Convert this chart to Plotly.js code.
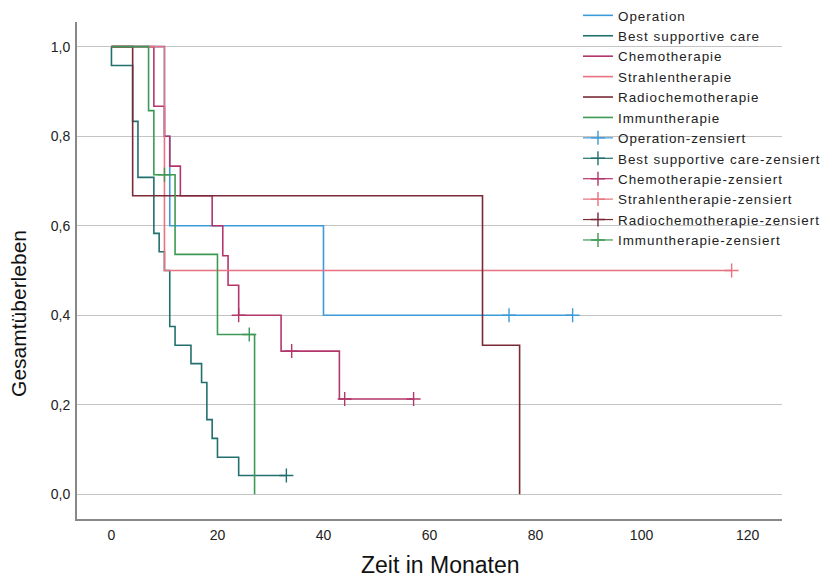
<!DOCTYPE html>
<html>
<head>
<meta charset="utf-8">
<script src="https://cdn.plot.ly/plotly-3.0.1.min.js"></script>
<style>
  html, body { margin: 0; padding: 0; background: #ffffff; }
  #chart { width: 825px; height: 579px; }
  .legend .legendtext { letter-spacing: 1px; }
  .legend, .legend .scrollbox, .legend g { clip-path: none !important; }
</style>
</head>
<body>
<div id="chart"></div>
<script>
// Kaplan-Meier survival estimates per therapy group (time in months)
const groups = ["Operation", "Best supportive care", "Chemotherapie",
                "Strahlentherapie", "Radiochemotherapie", "Immuntherapie"];

const opTime   = [0, 10, 11, 40, 87];
const opSurv   = [1.0, 0.8, 0.6, 0.4, 0.4];
const bscTime  = [0, 0, 4, 5, 8, 9, 10, 11, 12, 15, 17, 18, 19, 20, 24, 33];
const bscSurv  = [1.0, 0.958, 0.833, 0.708, 0.583, 0.542, 0.5, 0.375, 0.333, 0.292, 0.25, 0.167, 0.125, 0.083, 0.042, 0.042];
const chemoTime = [0, 8, 10, 11, 13, 19, 21, 22, 24, 32, 43, 57];
const chemoSurv = [1.0, 0.867, 0.8, 0.733, 0.667, 0.6, 0.533, 0.467, 0.4, 0.32, 0.213, 0.213];
const strTime  = [0, 10, 117];
const strSurv  = [1.0, 0.5, 0.5];
const rctTime  = [0, 4, 70, 77];
const rctSurv  = [1.0, 0.667, 0.333, 0.0];
const immTime  = [0, 7, 8, 12, 20, 27];
const immSurv  = [1.0, 0.857, 0.714, 0.536, 0.357, 0.0];

// censored observations
const opCensTime    = [75, 87];
const opCensSurv    = [0.4, 0.4];
const bscCensTime   = [33];
const bscCensSurv   = [0.042];
const chemoCensTime = [24, 34, 44, 57];
const chemoCensSurv = [0.4, 0.32, 0.213, 0.213];
const strCensTime   = [117];
const strCensSurv   = [0.5];
const rctCensTime   = [];
const rctCensSurv   = [];
const immCensTime   = [10, 26];
const immCensSurv   = [0.714, 0.357];

const xTicks = [0, 20, 40, 60, 80, 100, 120];
const yTicks = [0.0, 0.2, 0.4, 0.6, 0.8, 1.0];
const xTitle = "Zeit in Monaten";
const yTitle = "Gesamtüberleben";

const colors = ["#3b9bd9", "#22706e", "#b3366b", "#e8727f", "#7a2a36", "#3d9a55"];

const curves = [
  [opTime, opSurv], [bscTime, bscSurv], [chemoTime, chemoSurv],
  [strTime, strSurv], [rctTime, rctSurv], [immTime, immSurv]
];
const censored = [
  [opCensTime, opCensSurv], [bscCensTime, bscCensSurv], [chemoCensTime, chemoCensSurv],
  [strCensTime, strCensSurv], [rctCensTime, rctCensSurv], [immCensTime, immCensSurv]
];

// separate points with gaps so censor markers are not joined by lines
function withGaps(arr) {
  const out = [];
  arr.forEach((v, i) => { if (i) out.push(null); out.push(v); });
  return out;
}

const traces = [];
curves.forEach((c, i) => {
  traces.push({
    type: "scatter", mode: "lines", name: groups[i],
    x: c[0], y: c[1],
    line: { shape: "hv", color: colors[i], width: 1.6 },
    hoverinfo: "x+y"
  });
});
censored.forEach((c, i) => {
  const xs = c[0].length ? withGaps(c[0]) : [null];
  const ys = c[1].length ? withGaps(c[1]) : [null];
  traces.push({
    type: "scatter", mode: "lines+markers", name: groups[i] + "-zensiert",
    x: xs, y: ys, connectgaps: false,
    line: { color: colors[i], width: 1.2 },
    marker: { symbol: "cross-thin", size: 10, line: { color: colors[i], width: 1.4 } },
    hoverinfo: "x+y"
  });
});

const layout = {
  width: 825, height: 579,
  paper_bgcolor: "#ffffff", plot_bgcolor: "#ffffff",
  separators: ",.",
  font: { family: "Liberation Sans, Arial, sans-serif", color: "#222222", size: 14 },
  margin: { l: 77, r: 43, t: 22, b: 60, pad: 0, autoexpand: false },
  showlegend: true,
  legend: {
    x: 0.7106, xanchor: "left", y: 1.044, yanchor: "top",
    bgcolor: "rgba(0,0,0,0)", borderwidth: 0,
    font: { family: "Liberation Sans, Arial, sans-serif", size: 13.4, color: "#222222" },
    itemwidth: 30, tracegroupgap: 0
  },
  xaxis: {
    range: [-6.5, 126.5], tickvals: xTicks, ticktext: xTicks.map(String),
    showgrid: false, zeroline: false, showline: true, linecolor: "#888888", linewidth: 2,
    ticks: "", ticklabelstandoff: 2, tickfont: { size: 14, color: "#222222" },
    automargin: false, fixedrange: true
  },
  yaxis: {
    range: [-0.055, 1.055], tickvals: yTicks, tickformat: ".1f",
    showgrid: true, gridcolor: "#c4c4c4", gridwidth: 1.3,
    zeroline: false, showline: true, linecolor: "#888888", linewidth: 2,
    ticks: "", ticklabelstandoff: 2, tickfont: { size: 14, color: "#222222" },
    automargin: false, fixedrange: true
  },
  annotations: [
    { text: xTitle, xref: "paper", yref: "paper", x: 0.516, y: -0.093,
      xanchor: "center", yanchor: "middle", showarrow: false,
      font: { size: 23, color: "#111111" } },
    { text: yTitle, xref: "paper", yref: "paper", x: -0.082, y: 0.413,
      xanchor: "center", yanchor: "middle", showarrow: false, textangle: -90,
      font: { size: 21, color: "#111111" } }
  ]
};

Plotly.newPlot("chart", traces, layout, { displayModeBar: false, staticPlot: true });
</script>
</body>
</html>
